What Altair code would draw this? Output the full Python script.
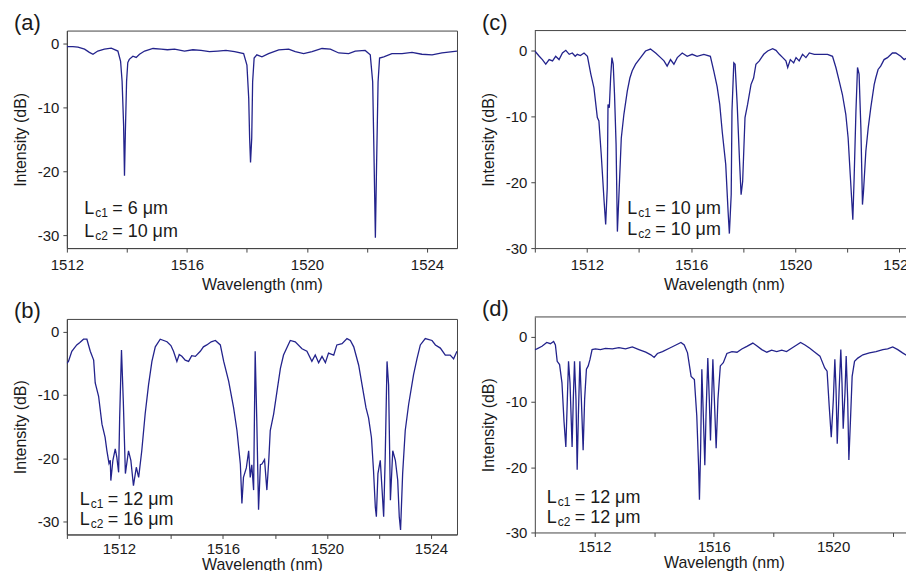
import altair as alt
import pandas as pd

FONT = "Liberation Sans"
LINE = "#23238c"
AX = "#444444"
TXT = "#1a1a1a"

# ---------------- data ----------------
# Panel (a)  Lc1 = 6 um, Lc2 = 10 um
a_wl = [1512.0, 1512.2, 1512.37, 1512.59, 1512.75, 1512.87, 1513.03, 1513.25, 1513.48, 1513.7,
        1513.79, 1513.84, 1513.89, 1513.92, 1513.95, 1513.99, 1514.03, 1514.08, 1514.2, 1514.31,
        1514.42, 1514.59, 1514.87, 1515.14, 1515.35, 1515.59, 1515.92, 1516.2, 1516.47, 1516.75,
        1517.03, 1517.3, 1517.59, 1517.89, 1518.0, 1518.06, 1518.09, 1518.12, 1518.16, 1518.19,
        1518.24, 1518.33, 1518.5, 1518.72, 1519.06, 1519.39, 1519.61, 1519.89, 1520.17, 1520.5,
        1520.78, 1521.06, 1521.39, 1521.61, 1521.94, 1522.11, 1522.19, 1522.23, 1522.28, 1522.32,
        1522.37, 1522.42, 1522.56, 1522.83, 1523.17, 1523.5, 1523.83, 1524.17, 1524.5, 1525.0]
a_db = [-0.5, -0.5, -0.6, -0.9, -1.4, -1.7, -1.2, -0.9, -0.75, -1.2,
        -2.8, -5.9, -12.7, -20.7, -13.7, -5.9, -3.0, -2.5, -2.0, -2.2,
        -1.7, -1.2, -0.8, -0.9, -1.0, -0.9, -1.2, -1.0, -1.1, -1.3,
        -1.2, -1.1, -1.3, -1.6, -3.4, -8.6, -14.8, -18.6, -14.8, -6.0,
        -2.3, -1.8, -2.1, -1.6, -1.0, -0.9, -1.3, -1.6, -1.3, -0.8,
        -0.9, -1.5, -1.6, -1.2, -1.1, -1.8, -6.0, -16.4, -30.4, -19.0,
        -6.0, -2.3, -2.1, -1.6, -1.6, -1.4, -1.7, -1.8, -1.5, -1.2]

# Panel (b)  Lc1 = 12 um, Lc2 = 16 um
b_wl = [1510.0, 1510.06, 1510.19, 1510.38, 1510.5, 1510.64, 1510.77, 1510.9, 1511.03, 1511.09,
        1511.22, 1511.35, 1511.47, 1511.54, 1511.62, 1511.67, 1511.69, 1511.77, 1511.86, 1511.92,
        1511.99, 1512.03, 1512.1, 1512.17, 1512.25, 1512.37, 1512.46, 1512.56, 1512.67, 1512.76,
        1512.88, 1513.01, 1513.14, 1513.27, 1513.4, 1513.59, 1513.85, 1514.0, 1514.1, 1514.23,
        1514.32, 1514.42, 1514.55, 1514.68, 1514.8, 1514.94, 1515.13, 1515.25, 1515.38, 1515.55,
        1515.71, 1515.9, 1516.03, 1516.22, 1516.41, 1516.54, 1516.67, 1516.73, 1516.79, 1516.9,
        1516.99, 1517.05, 1517.11, 1517.18, 1517.24, 1517.3, 1517.37, 1517.44, 1517.5, 1517.6,
        1517.69, 1517.76, 1517.82, 1517.95, 1518.08, 1518.21, 1518.33, 1518.53, 1518.59, 1518.78,
        1519.04, 1519.23, 1519.42, 1519.55, 1519.68, 1519.81, 1519.94, 1520.06, 1520.26, 1520.38,
        1520.58, 1520.77, 1520.9, 1521.03, 1521.22, 1521.35, 1521.5, 1521.6, 1521.71, 1521.79,
        1521.86, 1521.9, 1521.96, 1522.05, 1522.12, 1522.18, 1522.24, 1522.31, 1522.37, 1522.44,
        1522.53, 1522.63, 1522.72, 1522.78, 1522.83, 1522.91, 1523.01, 1523.14, 1523.33, 1523.46,
        1523.59, 1523.78, 1524.04, 1524.17, 1524.36, 1524.55, 1524.74, 1524.87, 1525.0]
b_db = [-5.0, -4.7, -3.1, -2.1, -1.7, -1.2, -1.2, -3.1, -4.5, -8.1,
        -10.2, -14.6, -16.7, -18.8, -20.8, -20.3, -23.5, -20.3, -18.5, -19.8,
        -22.2, -13.6, -2.9, -11.0, -22.4, -18.8, -20.3, -24.3, -21.4, -23.0,
        -18.8, -13.0, -8.4, -4.7, -2.4, -1.2, -1.6, -2.2, -3.1, -4.7,
        -3.6, -3.9, -4.5, -4.7, -3.8, -3.9, -3.1, -2.4, -2.1, -1.6,
        -1.4, -2.1, -4.7, -7.8, -12.0, -15.6, -20.9, -27.1, -23.0, -21.5,
        -18.8, -23.0, -21.0, -25.0, -3.1, -13.6, -28.1, -21.0, -20.9, -20.2,
        -25.0, -20.5, -15.6, -13.0, -9.4, -5.8, -3.7, -1.9, -1.4, -1.6,
        -2.7, -3.1, -4.7, -3.7, -4.9, -3.9, -4.9, -3.4, -3.7, -2.1,
        -1.9, -1.1, -1.4, -2.4, -5.3, -8.4, -12.0, -13.6, -16.7, -21.9,
        -27.7, -29.2, -22.4, -20.3, -25.0, -29.2, -19.8, -4.7, -8.4, -26.6,
        -18.8, -20.3, -23.4, -29.2, -31.3, -22.4, -15.6, -11.5, -6.8, -4.3,
        -2.1, -1.1, -1.4, -2.1, -2.6, -3.7, -3.7, -4.3, -3.1]

# Panel (c)  Lc1 = 10 um, Lc2 = 10 um
c_wl = [1510.0, 1510.17, 1510.29, 1510.42, 1510.55, 1510.68, 1510.8, 1510.93, 1511.06, 1511.19,
        1511.32, 1511.44, 1511.55, 1511.63, 1511.75, 1511.89, 1512.02, 1512.15, 1512.27, 1512.4,
        1512.46, 1512.55, 1512.66, 1512.72, 1512.78, 1512.81, 1512.86, 1512.91, 1512.96, 1513.01,
        1513.06, 1513.12, 1513.17, 1513.23, 1513.32, 1513.42, 1513.55, 1513.65, 1513.74, 1513.87,
        1514.06, 1514.25, 1514.44, 1514.64, 1514.83, 1514.96, 1515.08, 1515.21, 1515.34, 1515.47,
        1515.66, 1515.85, 1516.04, 1516.23, 1516.49, 1516.74, 1516.87, 1517.0, 1517.1, 1517.2,
        1517.33, 1517.42, 1517.47, 1517.54, 1517.57, 1517.64, 1517.69, 1517.77, 1517.86, 1517.92,
        1517.98, 1518.07, 1518.17, 1518.3, 1518.4, 1518.49, 1518.62, 1518.79, 1518.94, 1519.13,
        1519.26, 1519.39, 1519.52, 1519.64, 1519.71, 1519.81, 1519.94, 1520.03, 1520.15, 1520.28,
        1520.41, 1520.54, 1520.73, 1520.98, 1521.24, 1521.43, 1521.56, 1521.69, 1521.81, 1521.94,
        1522.03, 1522.11, 1522.17, 1522.21, 1522.26, 1522.33, 1522.39, 1522.45, 1522.52, 1522.58,
        1522.62, 1522.71, 1522.8, 1522.9, 1523.03, 1523.09, 1523.18, 1523.28, 1523.41, 1523.54,
        1523.73, 1523.86, 1524.05, 1524.18, 1524.3, 1524.43, 1524.52]
c_db = [-0.1, -0.9, -1.4, -2.1, -1.4, -1.6, -0.9, -1.4, -0.4, 0.0,
        -0.6, -0.4, -0.9, -0.6, -0.8, -0.4, -0.9, -3.6, -5.7, -10.2,
        -10.7, -15.8, -22.9, -26.4, -20.9, -8.2, -8.7, -4.2, -1.1, -2.1,
        -6.7, -14.3, -27.5, -21.9, -13.3, -9.7, -6.2, -4.2, -3.1, -2.1,
        -1.1, -0.1, 0.2, -0.4, -1.1, -1.6, -2.4, -1.4, -2.1, -1.1,
        -0.4, -0.9, -0.6, -0.9, -0.6, -0.9, -3.1, -5.5, -8.2, -12.5,
        -17.3, -24.4, -27.8, -21.9, -9.2, -1.9, -2.1, -8.2, -16.8, -21.9,
        -19.9, -10.2, -8.2, -5.2, -4.2, -2.1, -1.6, -0.6, -0.1, 0.25,
        0.0, -0.6, -1.1, -1.6, -2.6, -1.4, -1.9, -1.1, -1.6, -0.6,
        -1.1, -0.4, -0.6, -0.6, -0.6, -0.9, -2.6, -4.7, -6.7, -9.7,
        -13.3, -18.8, -22.9, -25.7, -19.4, -9.2, -2.6, -3.6, -11.8, -23.4,
        -21.4, -15.3, -11.8, -8.7, -5.2, -4.2, -2.9, -2.4, -1.4, -1.1,
        -0.4, -0.4, -0.9, -1.4, -1.1, -1.6, -1.5]

# Panel (d)  Lc1 = 12 um, Lc2 = 12 um
d_wl = [1510.0, 1510.07, 1510.24, 1510.4, 1510.52, 1510.63, 1510.69, 1510.75, 1510.83, 1510.91,
        1510.98, 1511.04, 1511.09, 1511.13, 1511.18, 1511.25, 1511.29, 1511.33, 1511.38, 1511.42,
        1511.46, 1511.51, 1511.56, 1511.62, 1511.67, 1511.73, 1511.79, 1511.85, 1511.92, 1512.03,
        1512.2, 1512.37, 1512.6, 1512.82, 1513.04, 1513.27, 1513.49, 1513.72, 1513.89, 1514.0,
        1514.11, 1514.28, 1514.51, 1514.73, 1514.9, 1515.01, 1515.12, 1515.24, 1515.35, 1515.43,
        1515.49, 1515.52, 1515.56, 1515.6, 1515.65, 1515.7, 1515.74, 1515.8, 1515.85, 1515.89,
        1515.93, 1515.97, 1516.02, 1516.08, 1516.14, 1516.22, 1516.32, 1516.44, 1516.61, 1516.78,
        1516.94, 1517.11, 1517.31, 1517.44, 1517.61, 1517.78, 1517.94, 1518.11, 1518.28, 1518.44,
        1518.61, 1518.78, 1518.91, 1519.06, 1519.22, 1519.39, 1519.56, 1519.72, 1519.8, 1519.87,
        1519.94, 1520.01, 1520.06, 1520.1, 1520.14, 1520.2, 1520.26, 1520.3, 1520.34, 1520.4,
        1520.44, 1520.49, 1520.53, 1520.59, 1520.64, 1520.72, 1520.83, 1521.0, 1521.22, 1521.44,
        1521.67, 1521.83, 1522.0, 1522.17, 1522.33, 1522.5, 1522.68]
d_db = [-2.0, -1.9, -1.5, -0.9, -1.1, -0.75, -1.3, -3.8, -4.3, -7.1,
        -13.1, -16.9, -9.6, -3.8, -7.1, -16.9, -9.6, -3.8, -9.6, -20.4,
        -12.1, -3.8, -9.6, -17.4, -9.6, -5.0, -4.5, -3.5, -2.0, -1.9,
        -2.0, -1.8, -1.9, -1.7, -1.9, -1.6, -2.0, -2.4, -2.8, -3.2,
        -2.6, -2.3, -1.8, -1.3, -0.9, -1.3, -2.5, -6.1, -6.6, -12.1,
        -19.7, -25.0, -17.1, -5.0, -12.1, -19.7, -12.1, -3.3, -9.6, -15.9,
        -9.6, -3.5, -9.6, -17.1, -9.6, -4.5, -4.0, -2.6, -2.3, -2.4,
        -1.9, -1.5, -1.0, -1.4, -2.0, -2.4, -2.1, -2.3, -2.1, -2.3,
        -1.8, -1.3, -0.9, -1.3, -1.8, -2.4, -3.0, -4.8, -5.3, -10.6,
        -15.4, -9.6, -3.5, -8.1, -16.4, -8.6, -2.0, -7.1, -14.1, -8.6,
        -3.0, -9.6, -18.9, -12.1, -6.1, -3.8, -3.3, -2.8, -2.5, -2.3,
        -2.0, -1.9, -1.6, -2.0, -2.5, -3.0, -2.9]

# axis domains and tick values
a_xdom, a_ydom = [1512, 1525], [-32, 2]
b_xdom, b_ydom = [1510, 1525], [-32, 2]
c_xdom, c_ydom = [1510, 1524.52], [-30, 3]
d_xdom, d_ydom = [1510, 1522.68], [-30, 3]
a_xticks = [1512, 1514, 1516, 1518, 1520, 1522, 1524]
b_xticks = [1510, 1512, 1514, 1516, 1518, 1520, 1522, 1524]
c_xticks = [1510, 1512, 1514, 1516, 1518, 1520, 1522, 1524]
d_xticks = [1510, 1512, 1514, 1516, 1518, 1520, 1522]
y_ticks = [-30, -25, -20, -15, -10, -5, 0]

# annotation texts: position (wavelength, dB baseline)
a_ann = dict(wl=[1512.58, 1512.58], db=[-26.65, -30.2], sub=["c1", "c2"], rest=["= 6 μm", "= 10 μm"])
b_ann = dict(wl=[1510.5, 1510.5], db=[-27.4, -30.5], sub=["c1", "c2"], rest=["= 12 μm", "= 16 μm"])
c_ann = dict(wl=[1513.55, 1513.55], db=[-24.9, -28.0], sub=["c1", "c2"], rest=["= 10 μm", "= 10 μm"])
d_ann = dict(wl=[1510.4, 1510.4], db=[-25.5, -28.5], sub=["c1", "c2"], rest=["= 12 μm", "= 12 μm"])


def panel(label, wl, db, xdom, ydom, xticks, ann, width, height, framed, bottom_row):
    df = pd.DataFrame({"wl": wl, "db": db})
    xenc = alt.X("wl:Q",
                 scale=alt.Scale(domain=xdom, nice=False, zero=False),
                 axis=alt.Axis(values=xticks, title="Wavelength (nm)",
                               labelExpr="datum.value % 4 == 0 ? '' + datum.value : ''",
                               grid=False, tickSize=4,
                               labelPadding=3 if bottom_row else 5,
                               titlePadding=0 if bottom_row else 4,
                               labelFontSize=15, titleFontSize=16, labelFont=FONT, titleFont=FONT,
                               titleFontWeight="normal", labelColor=TXT, titleColor=TXT,
                               domainColor=AX, tickColor=AX, labelFlush=False, labelOverlap=False))
    yenc = alt.Y("db:Q",
                 scale=alt.Scale(domain=ydom, nice=False, zero=False),
                 axis=alt.Axis(values=y_ticks, title="Intensity (dB)",
                               labelExpr="datum.value % 10 == 0 ? '' + datum.value : ''",
                               grid=False, tickSize=4, labelPadding=4, titlePadding=9,
                               labelFontSize=15, titleFontSize=16, labelFont=FONT, titleFont=FONT,
                               titleFontWeight="normal", labelColor=TXT, titleColor=TXT,
                               domainColor=AX, tickColor=AX, labelFlush=False, labelOverlap=False))
    line = alt.Chart(df).mark_line(color=LINE, strokeWidth=1.3, clip=True).encode(x=xenc, y=yenc)

    adf = pd.DataFrame(ann)
    abase = alt.Chart(adf)
    tL = abase.mark_text(align="left", baseline="alphabetic", font=FONT, fontSize=18,
                         color=TXT).encode(x="wl:Q", y="db:Q", text=alt.value("L"))
    tS = abase.mark_text(align="left", baseline="alphabetic", font=FONT, fontSize=12,
                         color=TXT, dx=11, dy=3).encode(x="wl:Q", y="db:Q", text="sub:N")
    tR = abase.mark_text(align="left", baseline="alphabetic", font=FONT, fontSize=18,
                         color=TXT, dx=28).encode(x="wl:Q", y="db:Q", text="rest:N")
    lab = alt.Chart(pd.DataFrame({"wl": [xdom[0]], "db": [ydom[1]], "t": [label]})).mark_text(
        align="left", baseline="alphabetic", font=FONT, fontSize=22, color=TXT, dx=-53, dy=-1
    ).encode(x="wl:Q", y="db:Q", text="t:N")
    layers = [line, tL, tS, tR, lab]
    if not framed:
        top = alt.Chart(pd.DataFrame({"db": [ydom[1]]})).mark_rule(color=AX, strokeWidth=1).encode(y="db:Q")
        layers.append(top)
    view = alt.ViewBackground(stroke=AX, strokeWidth=1) if framed else alt.ViewBackground(strokeWidth=0)
    return alt.layer(*layers).properties(width=width, height=height, view=view)


pa = panel("(a)", a_wl, a_db, a_xdom, a_ydom, a_xticks, a_ann, 391, 218, True, False)
pb = panel("(b)", b_wl, b_db, b_xdom, b_ydom, b_xticks, b_ann, 391, 216, True, True)
pc = panel("(c)", c_wl, c_db, c_xdom, c_ydom, c_xticks, c_ann, 379, 218, False, False)
pd_ = panel("(d)", d_wl, d_db, d_xdom, d_ydom, d_xticks, d_ann, 379, 216, False, True)

chart = alt.hconcat(
    alt.vconcat(pa, pb, spacing=6),
    alt.vconcat(pc, pd_, spacing=6),
    spacing=22,
).properties(
    padding={"left": 3, "top": 2, "right": -11, "bottom": -3},
    background="white",
)

chart.save("out.html", embed_options={"renderer": "svg", "actions": False})
